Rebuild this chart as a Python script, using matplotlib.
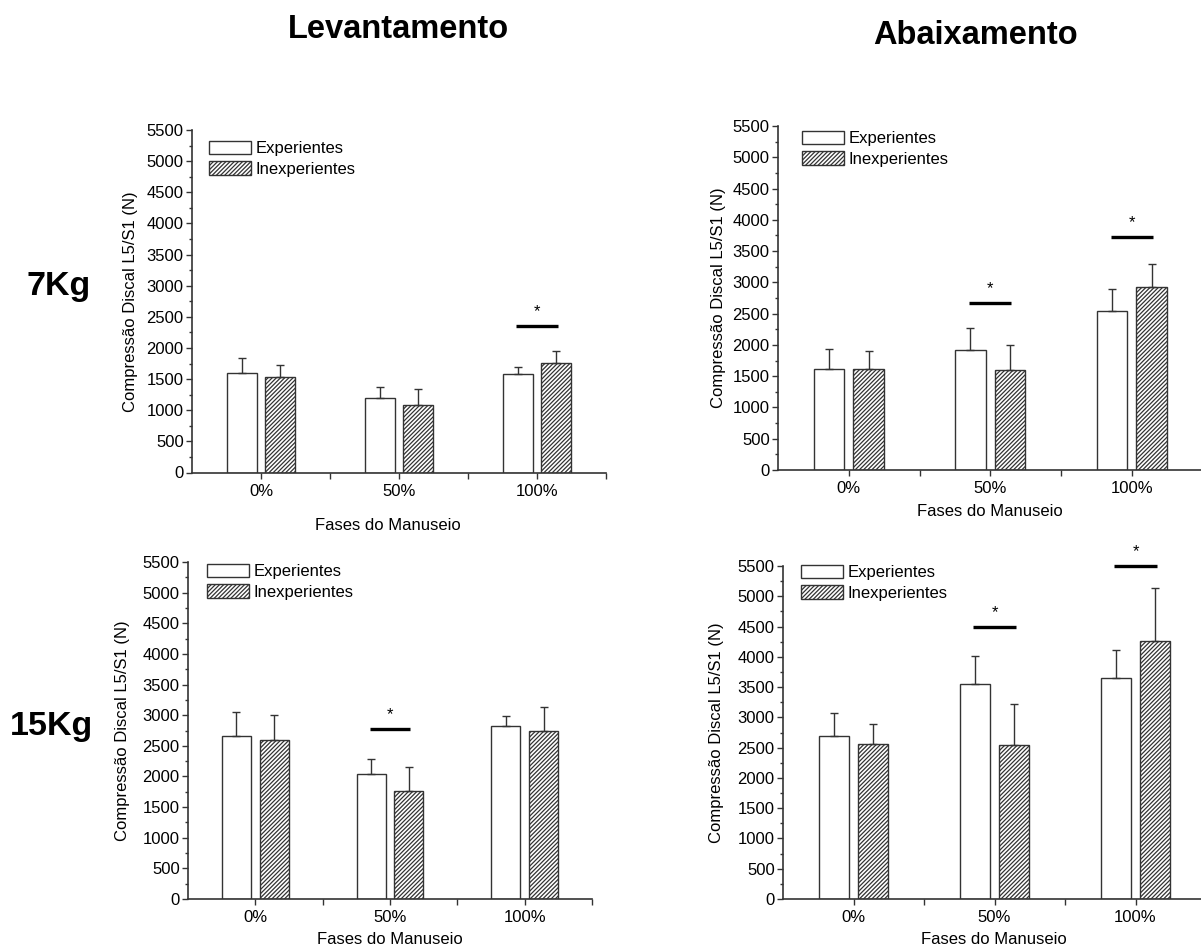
import matplotlib
matplotlib.use("Agg")
import matplotlib.pyplot as plt
from matplotlib.ticker import MultipleLocator, FixedLocator

plt.rcParams['font.family'] = ['Liberation Sans', 'DejaVu Sans']
plt.rcParams['hatch.linewidth'] = 0.9
plt.rcParams['hatch.color'] = '#555555'

categories = ['0%', '50%', '100%']
groups = ['Experientes', 'Inexperientes']

# 7Kg - Levantamento
lev7_exp = [1605, 1193, 1584]
lev7_exp_sd = [241, 187, 116]
lev7_inexp = [1530, 1080, 1765]
lev7_inexp_sd = [198, 267, 188]
lev7_sig = {2: 2360}

# 7Kg - Abaixamento
aba7_exp = [1620, 1919, 2548]
aba7_exp_sd = [315, 346, 352]
aba7_inexp = [1620, 1604, 2932]
aba7_inexp_sd = [278, 390, 368]
aba7_sig = {1: 2676, 2: 3721}

# 15Kg - Levantamento
lev15_exp = [2658, 2033, 2821]
lev15_exp_sd = [391, 260, 163]
lev15_inexp = [2592, 1755, 2745]
lev15_inexp_sd = [408, 392, 385]
lev15_sig = {1: 2777}

# 15Kg - Abaixamento
aba15_exp = [2698, 3552, 3651]
aba15_exp_sd = [375, 468, 457]
aba15_inexp = [2566, 2539, 4257]
aba15_inexp_sd = [325, 677, 875]
aba15_sig = {1: 4499, 2: 5501}

W, H = 1201, 952
fig = plt.figure(figsize=(W / 100, H / 100), dpi=100)

EC = '#333333'


def panel(box, exp, exp_sd, inexp, inexp_sd, sig, ylabel_px, xlabel_px, legend_px):
    left, right, bottom, top = box
    aw, ah = right - left, bottom - top
    ax = fig.add_axes([left / W, 1 - bottom / H, aw / W, ah / H])
    x = list(range(len(categories)))
    off, w = 0.14, 0.215
    xe = [i - off for i in x]
    xi = [i + off for i in x]
    ax.bar(xe, exp, width=w, color='white', edgecolor=EC, linewidth=1.0,
           label=groups[0], zorder=2)
    ax.bar(xi, inexp, width=w, color='white', edgecolor=EC, linewidth=1.0,
           hatch='////////', label=groups[1], zorder=2)
    ax.errorbar(xe, exp, yerr=[[0] * 3, exp_sd], fmt='none', ecolor=EC,
                elinewidth=1.0, capsize=3, capthick=1.0, zorder=3)
    ax.errorbar(xi, inexp, yerr=[[0] * 3, inexp_sd], fmt='none', ecolor=EC,
                elinewidth=1.0, capsize=3, capthick=1.0, zorder=3)
    for k, yv in sig.items():
        ax.plot([k - 0.15, k + 0.15], [yv, yv], color='black', lw=2.4,
                solid_capstyle='butt', clip_on=False, zorder=4)
        ax.text(k, yv + 110, '*', ha='center', va='bottom', fontsize=12,
                clip_on=False)
    ax.set_xlim(-0.5, 2.5)
    ax.set_ylim(0, 5500)
    ax.set_xticks(x)
    ax.set_xticklabels(categories, fontsize=12)
    ax.xaxis.set_minor_locator(FixedLocator([0.5, 1.5, 2.5]))
    ax.yaxis.set_major_locator(MultipleLocator(500))
    ax.yaxis.set_minor_locator(MultipleLocator(250))
    ax.tick_params(axis='both', which='major', direction='out', length=4,
                   width=1.0, color=EC, labelsize=12)
    ax.tick_params(axis='y', which='minor', direction='out', length=2.5,
                   width=1.0, color=EC)
    ax.tick_params(axis='x', which='minor', direction='out', length=4,
                   width=1.0, color=EC)
    ax.tick_params(axis='x', which='major', pad=4)
    ax.tick_params(axis='y', which='major', pad=2)
    for s in ['top', 'right']:
        ax.spines[s].set_visible(False)
    for s in ['left', 'bottom']:
        ax.spines[s].set_linewidth(1.2)
        ax.spines[s].set_color(EC)
    ax.set_xlabel('Fases do Manuseio', fontsize=12)
    ax.set_ylabel('Compressão Discal L5/S1 (N)', fontsize=12)
    # label placement given in pixels (centre of the label)
    ax.yaxis.set_label_coords((ylabel_px - left) / aw, 0.5)
    ax.yaxis.label.set_verticalalignment('center')
    lx, ly = xlabel_px
    ax.xaxis.set_label_coords((lx - left) / aw, -(ly - bottom) / ah)
    ax.xaxis.label.set_verticalalignment('center')
    gx, gy = legend_px
    ax.legend(loc='upper left', bbox_to_anchor=((gx - left) / aw, 1 - (gy - top) / ah),
              frameon=False, fontsize=12, handlelength=2.5, handleheight=0.85,
              handletextpad=0.3, labelspacing=0.3, borderpad=0, borderaxespad=0)
    return ax


ax1 = panel((192, 606, 472.5, 130), lev7_exp, lev7_exp_sd, lev7_inexp, lev7_inexp_sd,
            lev7_sig, 130, (388, 525), (209, 141))
ax2 = panel((778, 1202.5, 470, 126), aba7_exp, aba7_exp_sd, aba7_inexp, aba7_inexp_sd,
            aba7_sig, 718, (990, 511), (802, 131))
ax3 = panel((188, 592, 899, 562), lev15_exp, lev15_exp_sd, lev15_inexp, lev15_inexp_sd,
            lev15_sig, 122, (390, 940), (207, 564))
ax4 = panel((783, 1206, 899, 566), aba15_exp, aba15_exp_sd, aba15_inexp, aba15_inexp_sd,
            aba15_sig, 717, (994, 939), (801, 565))

fig.text(398 / W, 1 - 38 / H, 'Levantamento', ha='center', va='baseline',
         fontsize=23.5, fontweight='bold')
fig.text(975 / W, 1 - 44 / H, 'Abaixamento', ha='center', va='baseline',
         fontsize=23.5, fontweight='bold')
fig.text(59 / W, 1 - 295 / H, '7Kg', ha='center', va='baseline',
         fontsize=24.5, fontweight='bold')
fig.text(51 / W, 1 - 735 / H, '15Kg', ha='center', va='baseline',
         fontsize=24.5, fontweight='bold')

fig.savefig('out.png', dpi=100, facecolor='white')
